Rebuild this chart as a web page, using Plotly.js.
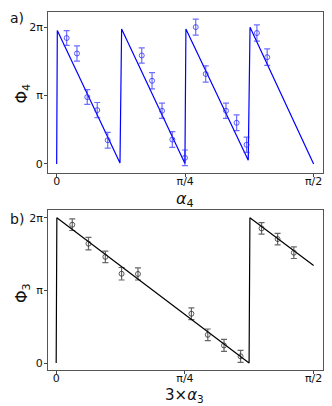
<!DOCTYPE html>
<html>
<head>
<meta charset="utf-8">
<script src="https://cdn.plot.ly/plotly-3.0.1.min.js"></script>
<style>
  html, body { margin: 0; padding: 0; background: #fff; }
  #chart { width: 332px; height: 406px; }
</style>
</head>
<body>
<div id="chart"></div>
<script>
// ---- Data (radians) ----
// Panel a: model sawtooth vertices
const aLineX = [0, 0.004, 0.387, 0.397, 0.784, 0.790, 1.171, 1.182, 1.5708];
const aLineY = [0, 6.127, 0.046, 6.19, 0.02, 6.19, 0.17, 6.27, 0];
// Panel a: measured points
const aX = [0.061, 0.124, 0.187, 0.248, 0.312, 0.520, 0.583, 0.644, 0.707, 0.784, 0.850, 0.911, 1.035, 1.100, 1.161, 1.224, 1.287];
const aY = [5.78, 5.07, 3.07, 2.47, 1.09, 4.98, 3.82, 2.44, 1.12, 0.28, 6.28, 4.13, 2.44, 1.89, 0.88, 6.01, 4.90];
const aErr = [0.34, 0.35, 0.34, 0.35, 0.36, 0.35, 0.37, 0.35, 0.36, 0.36, 0.37, 0.37, 0.35, 0.36, 0.35, 0.37, 0.38];
// Panel b: model sawtooth vertices
const bLineX = [0, 0.004, 1.177, 1.182, 1.5708];
const bLineY = [0, 6.28, 0, 6.28, 4.22];
// Panel b: measured points
const bX = [0.098, 0.197, 0.300, 0.399, 0.499, 0.825, 0.925, 1.024, 1.125, 1.253, 1.351, 1.450];
const bY = [5.98, 5.16, 4.59, 3.86, 3.85, 2.13, 1.22, 0.76, 0.29, 5.82, 5.36, 4.77];
const bErr = [0.25, 0.27, 0.25, 0.27, 0.26, 0.25, 0.25, 0.26, 0.26, 0.25, 0.25, 0.25];
// Ticks
const xTickVals = [0, 0.7854, 1.5708];
const xTickText = ['0', 'π/4', 'π/2'];
const yTickVals = [0, 3.1416, 6.2832];
const yTickText = ['0', 'π', '2π'];

const FONT = 'DejaVu Sans, sans-serif';

const traces = [
  { x: aLineX, y: aLineY, type: 'scatter', mode: 'lines', xaxis: 'x', yaxis: 'y',
    line: { color: '#0000ff', width: 1.2 }, showlegend: false, hoverinfo: 'skip' },
  { x: aX, y: aY, type: 'scatter', mode: 'markers', xaxis: 'x', yaxis: 'y',
    marker: { symbol: 'circle-open', size: 5, color: 'rgba(40,40,255,0.75)', line: { width: 1 } },
    error_y: { type: 'data', array: aErr, visible: true, color: 'rgba(30,30,255,0.65)', thickness: 1.2, width: 3 },
    showlegend: false },
  { x: bLineX, y: bLineY, type: 'scatter', mode: 'lines', xaxis: 'x2', yaxis: 'y2',
    line: { color: '#000000', width: 1.2 }, showlegend: false, hoverinfo: 'skip' },
  { x: bX, y: bY, type: 'scatter', mode: 'markers', xaxis: 'x2', yaxis: 'y2',
    marker: { symbol: 'circle-open', size: 5, color: 'rgba(40,40,40,0.75)', line: { width: 1 } },
    error_y: { type: 'data', array: bErr, visible: true, color: 'rgba(0,0,0,0.6)', thickness: 1.2, width: 3 },
    showlegend: false }
];

function xAxis(anchor, range) {
  return {
    domain: [0, 1], anchor: anchor, range: range,
    tickmode: 'array', tickvals: xTickVals, ticktext: xTickText,
    ticks: 'outside', ticklen: 3, tickwidth: 1, tickcolor: '#444',
    ticklabelstandoff: -5,
    showline: true, linecolor: '#555', linewidth: 1, mirror: true,
    showgrid: false, zeroline: false,
    tickfont: { family: FONT, size: 11, color: '#111' }
  };
}
function yAxis(domain, anchor, range) {
  return {
    domain: domain, anchor: anchor, range: range,
    tickmode: 'array', tickvals: yTickVals, ticktext: yTickText,
    ticks: 'outside', ticklen: 3, tickwidth: 1, tickcolor: '#444',
    ticklabelstandoff: -1,
    showline: true, linecolor: '#555', linewidth: 1, mirror: true,
    showgrid: false, zeroline: false,
    tickfont: { family: FONT, size: 11, color: '#111' }
  };
}

function label(text, x, y, size, angle) {
  return { text: text, xref: 'paper', yref: 'paper', x: x, y: y, xanchor: 'center', yanchor: 'middle',
    showarrow: false, textangle: angle || 0, font: { family: FONT, size: size, color: '#111' } };
}

const layout = {
  width: 332, height: 406,
  margin: { l: 48, r: 9, t: 12, b: 36 },
  paper_bgcolor: '#fff', plot_bgcolor: '#fff',
  showlegend: false,
  xaxis: xAxis('y', [-0.053, 1.628]),
  yaxis: yAxis([0.5503, 1], 'x', [-0.415, 6.974]),
  xaxis2: xAxis('y2', [-0.050, 1.628]),
  yaxis2: yAxis([0, 0.4469], 'x2', [-0.302, 6.616]),
  annotations: [
    label('a)', -0.1145, 0.982, 14),
    label('b)', -0.1145, 0.422, 14),
    label('<i>α</i><sub>4</sub>', 0.498, 0.477, 16),
    label('3×<i>α</i><sub>3</sub>', 0.498, -0.070, 15),
    label('Φ<sub>4</sub>', -0.0927, 0.771, 16, -90),
    label('Φ<sub>3</sub>', -0.0927, 0.2137, 16, -90)
  ]
};

Plotly.newPlot('chart', traces, layout, { displayModeBar: false, staticPlot: true });
</script>
</body>
</html>
